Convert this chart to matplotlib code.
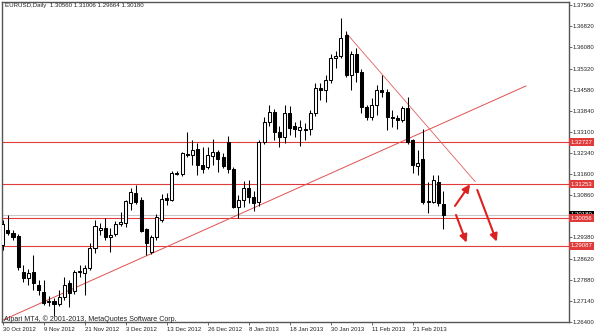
import matplotlib
matplotlib.use('Agg')
import matplotlib.pyplot as plt
import matplotlib.transforms as mtransforms
import numpy as np

# EURUSD daily candles, 30 Oct 2012 .. 1 Mar 2013
opens = [1.2910, 1.2965, 1.2953, 1.2942, 1.2816, 1.2795, 1.2816, 1.2770, 1.2746, 1.2712,
         1.2715, 1.2705, 1.2728, 1.2777, 1.2748, 1.2815, 1.2813, 1.2830, 1.2900, 1.2965,
         1.2971, 1.2938, 1.2950, 1.2985, 1.2990, 1.3060, 1.3093, 1.3070, 1.2967, 1.2888,
         1.2938, 1.3000, 1.3076, 1.3070, 1.3165, 1.3160, 1.3232, 1.3228, 1.3250, 1.3192,
         1.3186, 1.3225, 1.3237, 1.3220, 1.3272, 1.3180, 1.3045, 1.3068, 1.3110, 1.3080,
         1.3062, 1.3273, 1.3345, 1.3380, 1.3310, 1.3290, 1.3375, 1.3330, 1.3315, 1.3320,
         1.3320, 1.3377, 1.3465, 1.3455, 1.3492, 1.3570, 1.3578, 1.3650, 1.3510, 1.3585,
         1.3520, 1.3397, 1.3362, 1.3404, 1.3457, 1.3450, 1.3362, 1.3358, 1.3352, 1.3393,
         1.3280, 1.3190, 1.3215, 1.3063, 1.3063, 1.3133, 1.30560]
highs = [1.2998, 1.3015, 1.2964, 1.2950, 1.2841, 1.2826, 1.2876, 1.2788, 1.2788, 1.2730,
         1.2726, 1.2753, 1.2798, 1.2788, 1.2823, 1.2841, 1.2841, 1.2918, 1.2999, 1.2989,
         1.3006, 1.2971, 1.2996, 1.3027, 1.3070, 1.3112, 1.3123, 1.3080, 1.2972, 1.2945,
         1.3020, 1.3090, 1.3093, 1.3170, 1.3170, 1.3238, 1.3309, 1.3280, 1.3270, 1.3255,
         1.3256, 1.3284, 1.3246, 1.3235, 1.3295, 1.3185, 1.3087, 1.3137, 1.3140, 1.3100,
         1.3280, 1.3360, 1.3403, 1.3390, 1.3330, 1.3405, 1.3400, 1.3345, 1.3350, 1.3340,
         1.3385, 1.3480, 1.3480, 1.3510, 1.3585, 1.3595, 1.3710, 1.3665, 1.3595, 1.3605,
         1.3530, 1.3405, 1.3430, 1.3475, 1.3510, 1.3460, 1.3385, 1.3370, 1.3400, 1.3432,
         1.3285, 1.3245, 1.3318, 1.3132, 1.3157, 1.3158, 1.31006]
lows = [1.2895, 1.2945, 1.2929, 1.2823, 1.2781, 1.2770, 1.2753, 1.2735, 1.2700, 1.2697,
        1.2662, 1.2697, 1.2718, 1.2693, 1.2740, 1.2799, 1.2735, 1.2823, 1.2883, 1.2946,
        1.2929, 1.2887, 1.2943, 1.2978, 1.2975, 1.3035, 1.3055, 1.2957, 1.2876, 1.2880,
        1.2929, 1.2992, 1.3052, 1.3066, 1.3158, 1.3155, 1.3221, 1.3193, 1.3158, 1.3165,
        1.3180, 1.3194, 1.3168, 1.3182, 1.3165, 1.3040, 1.3005, 1.3045, 1.3060, 1.3030,
        1.3050, 1.3265, 1.3330, 1.3280, 1.3255, 1.3270, 1.3300, 1.3290, 1.3260, 1.3280,
        1.3300, 1.3365, 1.3422, 1.3414, 1.3480, 1.3534, 1.3570, 1.3503, 1.3457, 1.3485,
        1.3376, 1.3350, 1.3350, 1.3370, 1.3432, 1.3316, 1.3325, 1.3320, 1.3345, 1.3265,
        1.3165, 1.3157, 1.3055, 1.3022, 1.3060, 1.3050, 1.29664]
closes = [1.2985, 1.2955, 1.2939, 1.2833, 1.2795, 1.2812, 1.2777, 1.2753, 1.2708, 1.2714,
          1.2703, 1.2729, 1.2770, 1.2742, 1.2815, 1.2820, 1.2830, 1.2900, 1.2978, 1.2972,
          1.2940, 1.2947, 1.2985, 1.2992, 1.3066, 1.3096, 1.3063, 1.2962, 1.2918, 1.2938,
          1.3008, 1.3074, 1.3070, 1.3163, 1.3160, 1.3235, 1.3228, 1.3245, 1.3192, 1.3180,
          1.3228, 1.3240, 1.3215, 1.3188, 1.3180, 1.3045, 1.3068, 1.3112, 1.3080, 1.3060,
          1.3273, 1.3343, 1.3380, 1.3310, 1.3290, 1.3375, 1.3323, 1.3320, 1.3325, 1.3315,
          1.3377, 1.3465, 1.3455, 1.3492, 1.3570, 1.3578, 1.3640, 1.3510, 1.3585, 1.3520,
          1.3397, 1.3362, 1.3404, 1.3457, 1.3450, 1.3362, 1.3358, 1.3352, 1.3393, 1.3273,
          1.3192, 1.3198, 1.3063, 1.3065, 1.3140, 1.3058, 1.30180]

date_ticks = [0, 8, 16, 24, 32, 40, 48, 56, 64, 72, 80]
date_labels = ['30 Oct 2012', '9 Nov 2012', '21 Nov 2012', '3 Dec 2012', '13 Dec 2012',
               '26 Dec 2012', '8 Jan 2013', '18 Jan 2013', '30 Jan 2013', '11 Feb 2013',
               '21 Feb 2013']
price_ticks = [1.37560, 1.36820, 1.36080, 1.35320, 1.34580, 1.33840, 1.33100, 1.32340,
               1.31600, 1.30860, 1.29380, 1.28620, 1.27880, 1.27140, 1.26400]

levels = [1.32727, 1.31253, 1.30056, 1.29087]
bid = 1.30180

# trend lines (bar index, price)
up_line = ([0.06, 102.1], [1.2647, 1.3471])
down_line = ([67.1, 92.2], [1.3656, 1.3134])

# arrows: (x0, y0, x1, y1) in bar index / price
arrows = [(88.25, 1.30485, 91.2, 1.31249),
          (88.45, 1.30168, 90.5, 1.29193),
          (92.6, 1.31048, 96.4, 1.29228)]

RED = '#e03a3a'
font = 'Liberation Sans'
fs = 4.3

fig = plt.figure(figsize=(5.95, 3.35), dpi=100)
ax = fig.add_axes([2 / 595, 13 / 335, 567 / 595, 320 / 335])

x = np.arange(len(opens))
o = np.array(opens)
h = np.array(highs)
l = np.array(lows)
c = np.array(closes)

# horizontal levels and bid line
ax.axhline(bid, color='#c8c8c8', lw=0.75, zorder=1)
for lv in levels:
    ax.axhline(lv, color=RED, lw=0.8, zorder=1)

ax.plot(up_line[0], up_line[1], color='#e05050', lw=0.7, zorder=2)
ax.plot(down_line[0], down_line[1], color='#e06060', lw=0.6, zorder=2)

# candles
ax.vlines(x, l, h, color='black', lw=0.75, zorder=3)
bull = c >= o
bottom = np.minimum(o, c)
height = np.maximum(np.abs(c - o), 0.00004)
ax.bar(x, height, bottom=bottom, width=0.6, color=np.where(bull, 'white', 'black'),
       edgecolor='black', linewidth=0.75, zorder=4)

for x0, y0, x1, y1 in arrows:
    ax.annotate('', xy=(x1, y1), xytext=(x0, y0),
                arrowprops=dict(arrowstyle='-|>,head_length=0.45,head_width=0.22',
                                color='#dd2020', lw=1.5, shrinkA=0, shrinkB=0),
                zorder=5)

ax.set_xlim(-0.14, 110.5)
ax.set_ylim(1.26402, 1.37665)

for s in ax.spines.values():
    s.set_color('#555555')
    s.set_linewidth(1.0)

ax.yaxis.tick_right()
ax.set_yticks(price_ticks)
ax.set_yticklabels(['%.5f' % p for p in price_ticks], fontsize=fs, family=font, color='#222222')
ax.tick_params(axis='y', length=2.0, width=0.6, pad=0.8, color='#555555')
ax.set_xticks(date_ticks)
ax.set_xticklabels(date_labels, fontsize=fs, family=font, color='#222222', ha='left')
ax.tick_params(axis='x', length=2.2, width=0.6, pad=1.2, color='#555555')

# price labels on the right axis
trans = mtransforms.blended_transform_factory(ax.transAxes, ax.transData)
ax.text(1.0035, bid, '%.5f' % bid, transform=trans, fontsize=fs, family=font,
        color='white', va='center', ha='left', zorder=6,
        bbox=dict(boxstyle='square,pad=0.25', fc='black', ec='none'), clip_on=False)
for lv in levels:
    ax.text(1.0035, lv, '%.5f' % lv, transform=trans, fontsize=fs, family=font,
            color='white', va='center', ha='left', zorder=7,
            bbox=dict(boxstyle='square,pad=0.25', fc=RED, ec='none'), clip_on=False)

fig.text(5 / 595, 1 - 3 / 335, 'EURUSD,Daily  1.30560 1.31006 1.29664 1.30180',
         fontsize=4.4, family=font, color='#222222', va='top', ha='left')
fig.text(4 / 595, 1 - 321 / 335, 'Alpari MT4, \u00a9 2001-2013, MetaQuotes Software Corp.',
         fontsize=5.1, family=font, color='#222222', va='baseline', ha='left')

fig.savefig('out.png', dpi=100, facecolor='white')
